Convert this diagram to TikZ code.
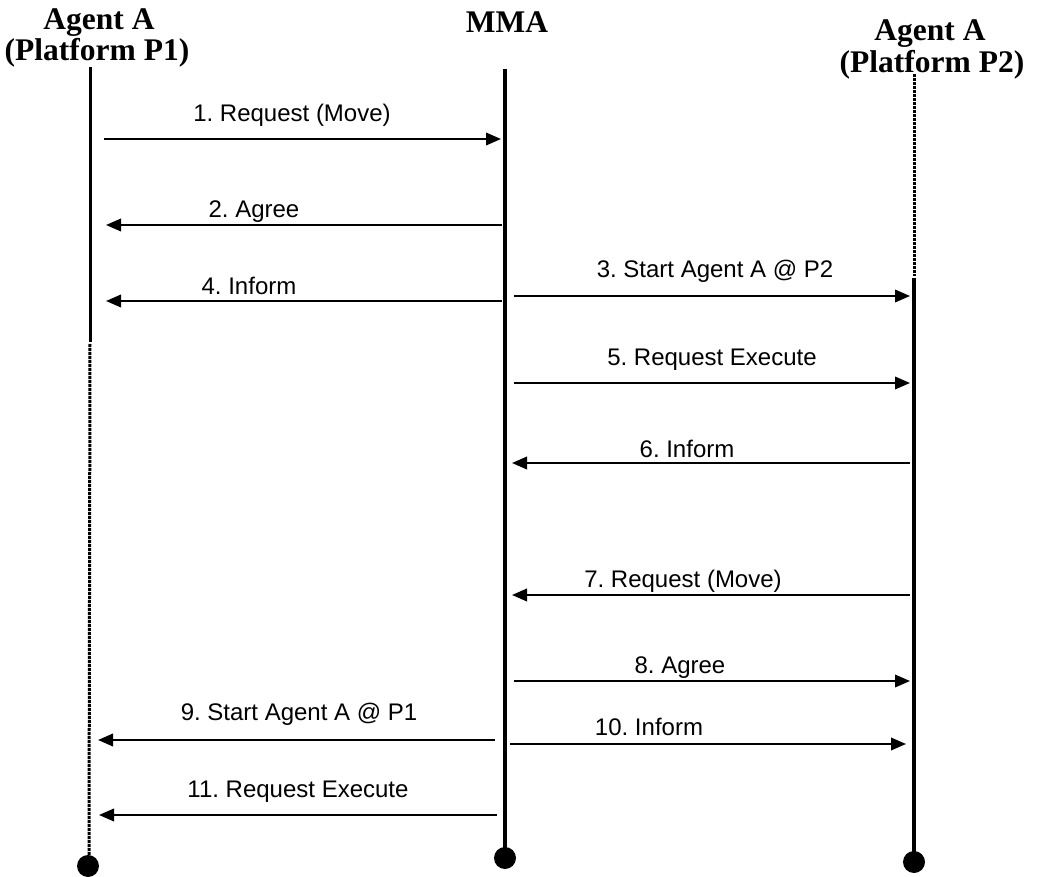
\documentclass[tikz,border=0pt]{standalone}
\usepackage{fontspec}
\setmainfont{Liberation Serif}
\newfontfamily\labelfont{Liberation Sans}
\usetikzlibrary{arrows.meta}
\frenchspacing
\begin{document}
\begin{tikzpicture}[x=1pt,y=-1pt,
  header/.style={font=\fontsize{31.5}{33}\selectfont\bfseries, inner sep=0pt, anchor=base},
  msglabel/.style={font=\labelfont\fontsize{24}{26}\selectfont, inner sep=0pt, anchor=base},
  msg/.style={line width=2pt, -{Triangle[length=15pt,width=12.5pt]}},
  lifeline/.style={line width=3pt},
  dottedlife/.style={line width=3pt, dash pattern=on 3pt off 1pt},
  endpoint/.style={circle, fill=black, inner sep=0pt, minimum size=22pt}]
\useasboundingbox (0,0) rectangle (1037,877);

% headers
\node[header] (hA1) at (99,30) {Agent A};
\node[header] (hP1) at (97,61) {(Platform P1)};
\node[header] (hM) at (507,33) {MMA};
\node[header] (hA2) at (930,41) {Agent A};
\node[header] (hP2) at (932,73) {(Platform P2)};

% lifeline anchors
\coordinate (L0) at (90,67);
\coordinate (L1) at (90,342);
\coordinate (L2) at (90,344);
\coordinate (L3) at (89,856);
\coordinate (M0) at (505,69);
\coordinate (M1) at (505,850);
\coordinate (R0) at (914,74);
\coordinate (R1) at (914,276);
\coordinate (R2) at (914,278);
\coordinate (R3) at (914,852);

\node[endpoint] (eL) at (88,866) {};
\node[endpoint] (eM) at (505,858) {};
\node[endpoint] (eR) at (914,862) {};

% lifelines
\draw[lifeline] (L0) -- (L1);
\draw[dottedlife] (L2) -- (L3);
\draw[line width=4pt] (M0) -- (M1);
\draw[dottedlife] (R0) -- (R1);
\draw[line width=3.5pt] (R2) -- (R3);

% message end points
\coordinate (a1) at (104,139); \coordinate (b1) at (501,139);
\coordinate (a2) at (502,225); \coordinate (b2) at (106,225);
\coordinate (a3) at (514,296); \coordinate (b3) at (910,296);
\coordinate (a4) at (502,301); \coordinate (b4) at (106,301);
\coordinate (a5) at (514,383); \coordinate (b5) at (910,383);
\coordinate (a6) at (910,463); \coordinate (b6) at (512,463);
\coordinate (a7) at (910,595); \coordinate (b7) at (512,595);
\coordinate (a8) at (514,681); \coordinate (b8) at (910,681);
\coordinate (a9) at (495,740); \coordinate (b9) at (98,740);
\coordinate (a10) at (510,744); \coordinate (b10) at (906,744);
\coordinate (a11) at (497,815); \coordinate (b11) at (99,815);

% messages
\draw[msg] (a1) -- (b1);
\draw[msg] (a2) -- (b2);
\draw[msg] (a3) -- (b3);
\draw[msg] (a4) -- (b4);
\draw[msg] (a5) -- (b5);
\draw[msg] (a6) -- (b6);
\draw[msg] (a7) -- (b7);
\draw[msg] (a8) -- (b8);
\draw[msg] (a9) -- (b9);
\draw[msg] (a10) -- (b10);
\draw[msg] (a11) -- (b11);

% message labels
\node[msglabel] (t1) at (292,122) {1. Request (Move)};
\node[msglabel] (t2) at (254,218) {2. Agree};
\node[msglabel] (t3) at (715,278) {3. Start Agent A @ P2};
\node[msglabel] (t4) at (249,295) {4. Inform};
\node[msglabel] (t5) at (712,366) {5. Request Execute};
\node[msglabel] (t6) at (687,457) {6. Inform};
\node[msglabel] (t7) at (683,587) {7. Request (Move)};
\node[msglabel] (t8) at (680,673) {8. Agree};
\node[msglabel] (t9) at (299,720) {9. Start Agent A @ P1};
\node[msglabel] (t10) at (649,735) {10. Inform};
\node[msglabel] (t11) at (298,797) {11. Request Execute};
\end{tikzpicture}
\end{document}
